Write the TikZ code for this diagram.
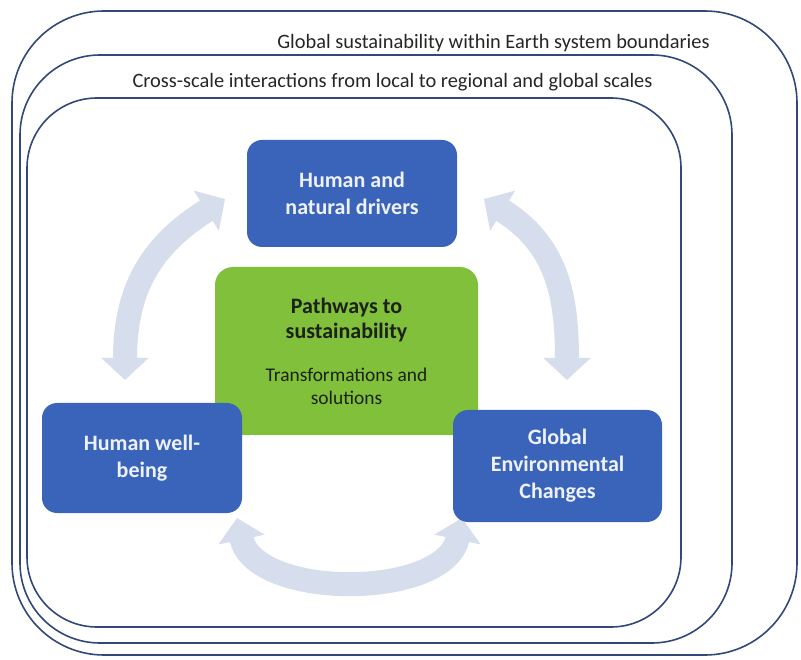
\documentclass[tikz,border=0pt]{standalone}
\usepackage{fontspec}
\setmainfont{Carlito}
\usetikzlibrary{arrows.meta}
\definecolor{framec}{RGB}{50,72,120}
\definecolor{boxblue}{RGB}{58,100,186}
\definecolor{boxtext}{RGB}{238,242,248}
\definecolor{boxgreen}{RGB}{128,192,58}
\definecolor{greentext}{RGB}{28,34,24}
\definecolor{arrowc}{RGB}{214,222,237}
\tikzset{
  frame/.style={draw=framec, line width=1.6pt},
  bluebox/.style={fill=boxblue, rounded corners=15pt, text=boxtext, align=center,
    font=\bfseries\fontsize{22}{27}\selectfont, inner sep=0pt},
  greenbox/.style={fill=boxgreen, rounded corners=18pt, inner sep=0pt},
  greenbold/.style={text=greentext, align=center, inner sep=0pt, font=\bfseries\fontsize{22}{25}\selectfont},
  greenreg/.style={text=greentext, align=center, inner sep=0pt, font=\fontsize{19.4}{23}\selectfont},
  toplabel/.style={font=\fontsize{20.4}{24}\selectfont, text=black!85, inner sep=0pt},
  bigarrow/.style={draw=arrowc, line width=24pt,
    {Triangle[width=46pt,length=22pt]}-{Triangle[width=46pt,length=22pt]}}
}
\begin{document}
\begin{tikzpicture}[x=1pt,y=1pt]
\useasboundingbox (0,0) rectangle (801,-660);
\fill[white] (0,0) rectangle (801,-660);
% frames
\draw[frame, rounded corners=92pt] (12,-11) rectangle (797,-655);
\draw[frame, rounded corners=80pt] (20,-55) rectangle (732,-643);
\draw[frame, rounded corners=70pt] (27,-98) rectangle (681,-627);
\node[toplabel] (lglobal) at (493.5,-43) {Global sustainability within Earth system boundaries};
\node[toplabel] (lcross) at (392.5,-82) {Cross-scale interactions from local to regional and global scales};
% arrow end points
\coordinate (la) at (125,-380);
\coordinate (lb) at (225,-199);
\coordinate (ra) at (484,-199);
\coordinate (rb) at (567,-380);
\coordinate (ba) at (237,-518);
\coordinate (bb) at (462,-518);
\draw[bigarrow] (la) to[out=90,in=212,looseness=1.1] (lb);
\draw[bigarrow] (ra) to[out=-32,in=90,looseness=1.1] (rb);
\draw[bigarrow] (ba) to[out=-78,in=-102,looseness=0.95] (bb);
% boxes
\node[greenbox, minimum width=263pt, minimum height=168pt] (path) at (346.5,-351) {};
\node[greenbold] (pathtitle) at (346.5,-320) {Pathways to\\sustainability};
\node[greenreg] (pathsub) at (346.5,-386) {Transformations and\\solutions};
\node[bluebox, minimum width=210pt, minimum height=107pt] (drivers) at (352,-193.5) {Human and\\natural drivers};
\node[bluebox, minimum width=200pt, minimum height=110pt] (wellbeing) at (142,-458) {Human well-\\being};
\node[bluebox, minimum width=209pt, minimum height=112pt] (gec) at (557.5,-466) {Global\\Environmental\\Changes};
\end{tikzpicture}
\end{document}
